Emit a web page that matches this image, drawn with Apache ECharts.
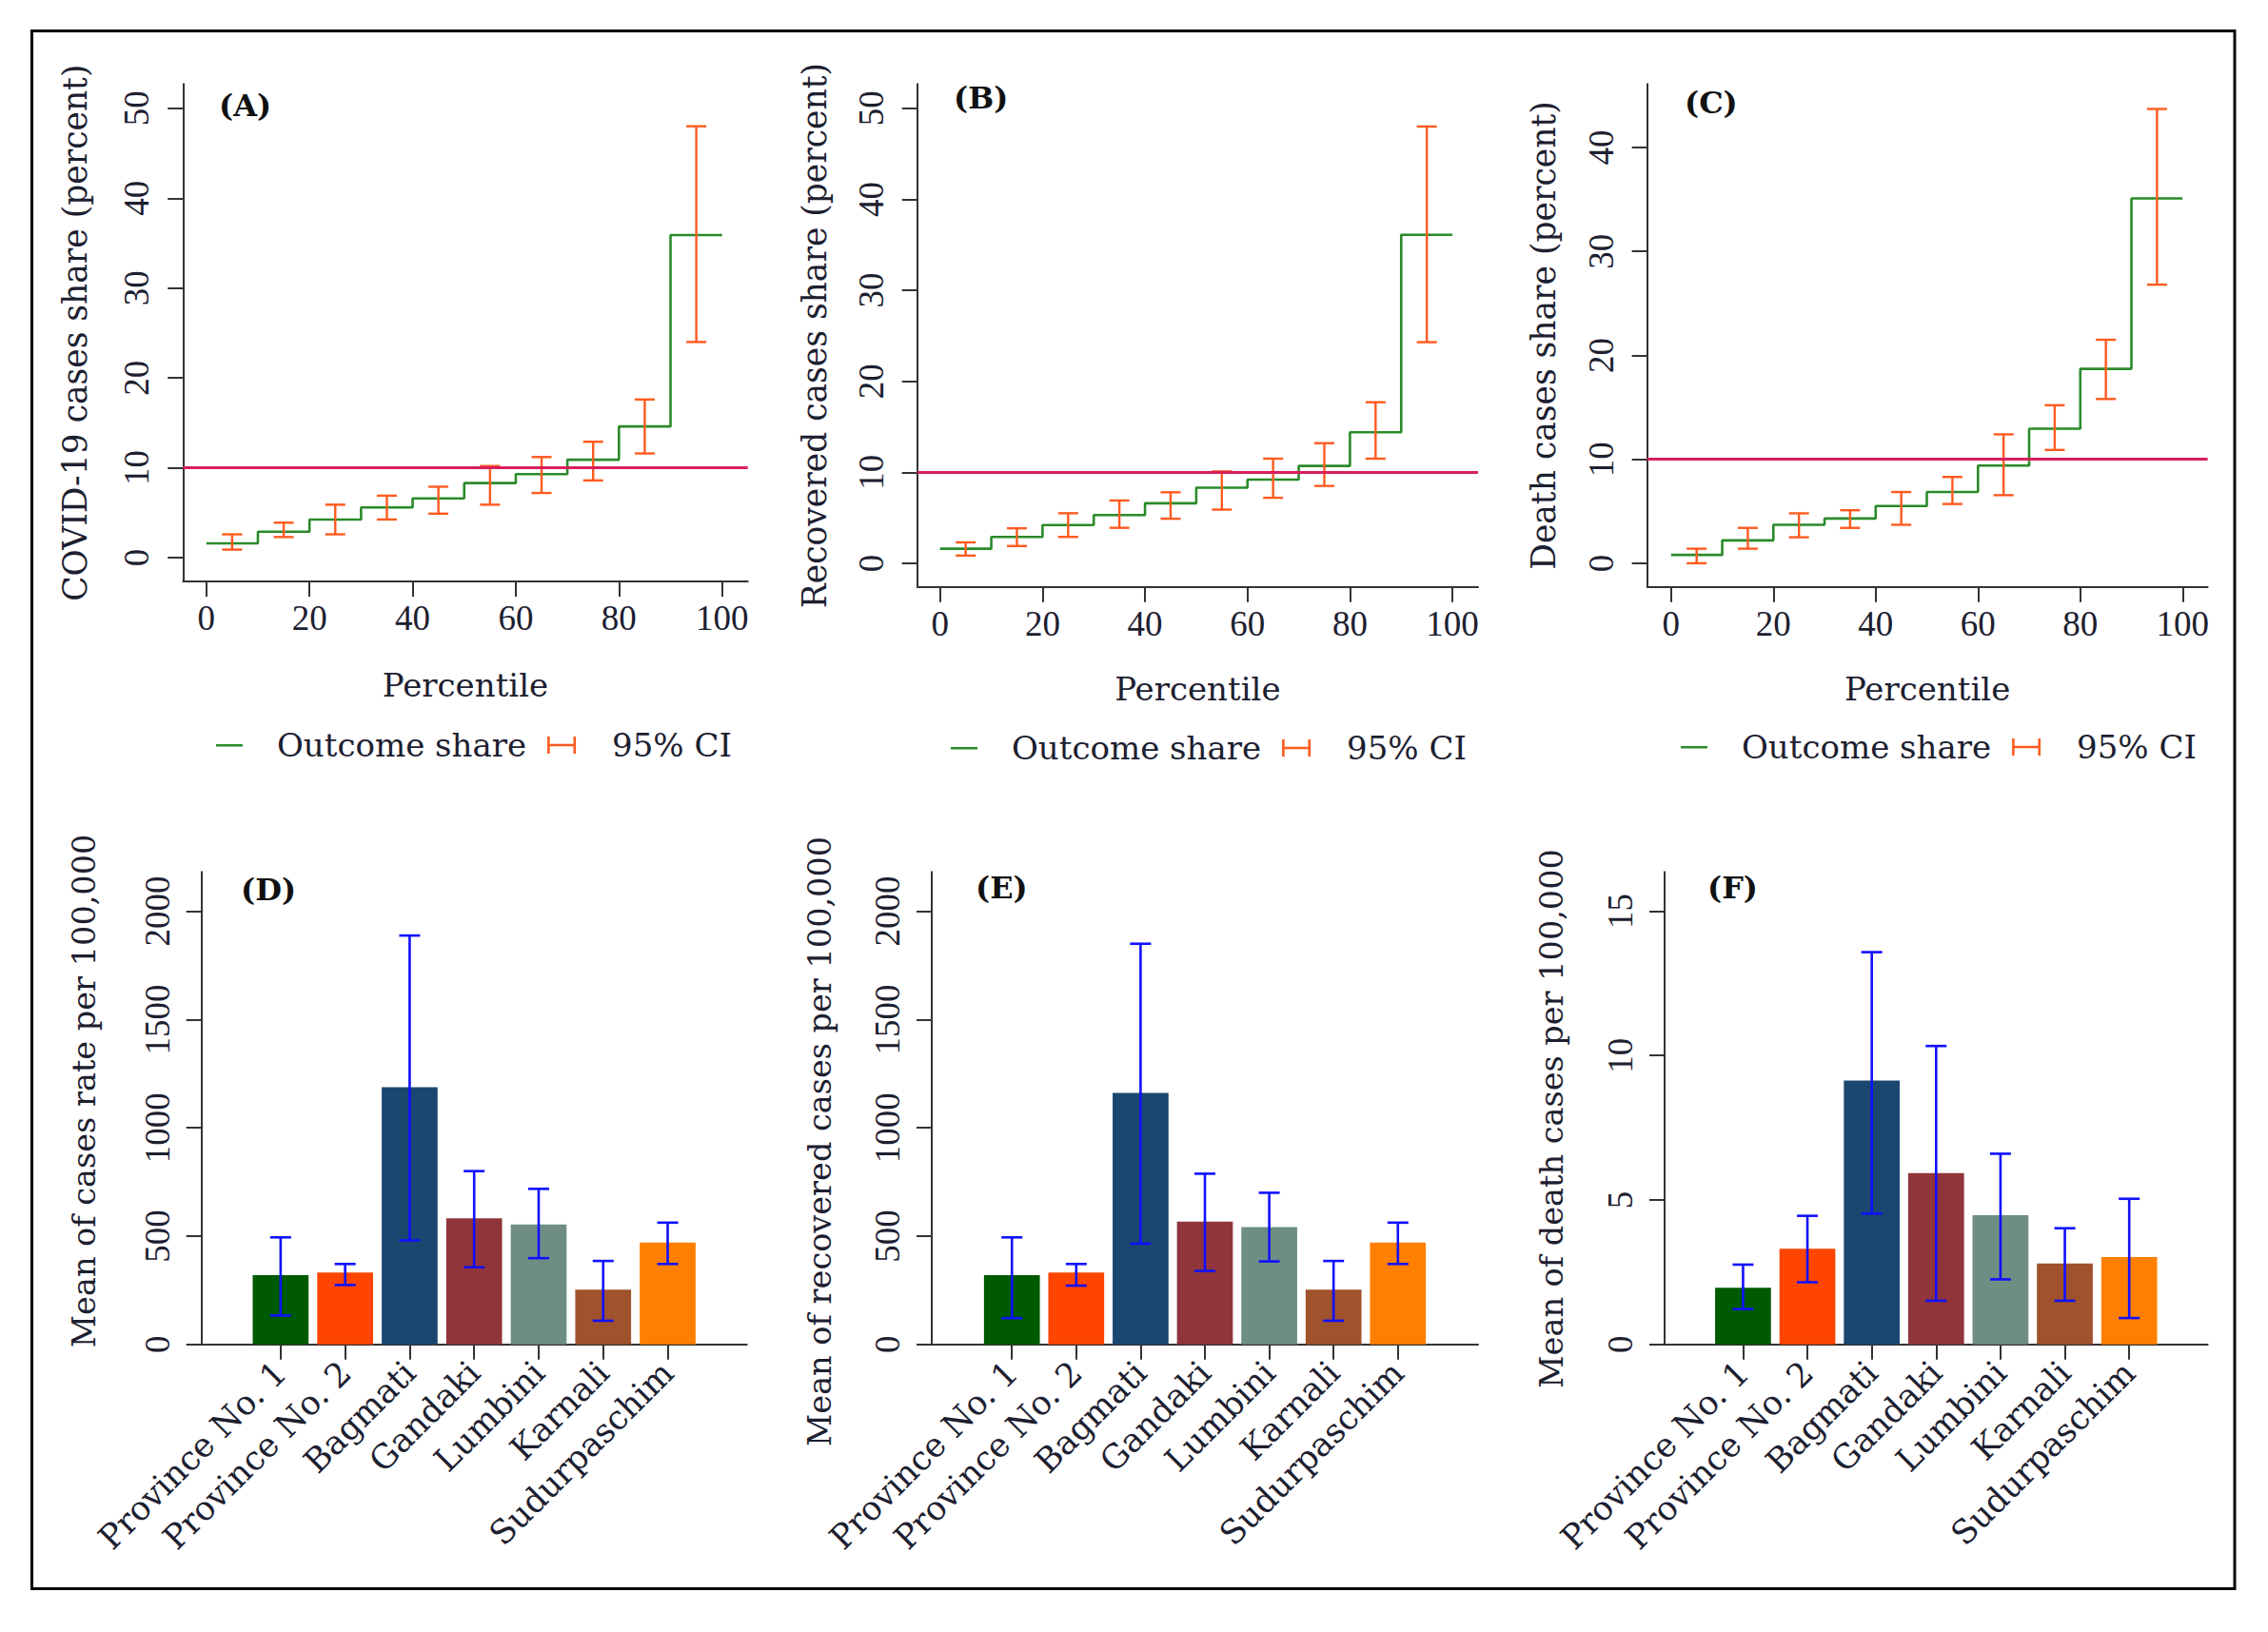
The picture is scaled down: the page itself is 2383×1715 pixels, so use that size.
<!DOCTYPE html>
<html>
<head>
<meta charset="utf-8">
<script src="https://cdn.jsdelivr.net/npm/echarts@6/dist/echarts.min.js"></script>
<style>
html,body{margin:0;padding:0;background:#ffffff;}
#c{width:2383px;height:1715px;}
</style>
</head>
<body>
<div id="c"></div>
<script>
// ---------------- DATA ----------------
const percentileEdges = [0, 10, 20, 30, 40, 50, 60, 70, 80, 90, 100];
const ciPositions = [5, 15, 25, 35, 45, 55, 65, 75, 85, 95];
const percentileTicks = [0, 20, 40, 60, 80, 100];

// (A) COVID-19 cases share
const shareA  = [1.6, 2.9, 4.25, 5.6, 6.6, 8.3, 9.3, 10.9, 14.6, 35.9];
const ciLowA  = [0.9, 2.3, 2.6, 4.25, 4.9, 5.9, 7.2, 8.6, 11.6, 24.0];
const ciHighA = [2.6, 3.9, 5.9, 6.9, 7.9, 10.2, 11.2, 12.9, 17.6, 48.0];
// (B) Recovered cases share
const shareB  = [1.6, 2.9, 4.2, 5.3, 6.6, 8.3, 9.2, 10.7, 14.4, 36.1];
const ciLowB  = [0.85, 1.9, 2.9, 3.9, 4.9, 5.9, 7.2, 8.5, 11.5, 24.3];
const ciHighB = [2.3, 3.85, 5.5, 6.9, 7.8, 10.1, 11.5, 13.2, 17.7, 48.0];
// (C) Death cases share
const shareC  = [0.8, 2.2, 3.7, 4.3, 5.5, 6.85, 9.4, 12.95, 18.7, 35.1];
const ciLowC  = [0.0, 1.4, 2.5, 3.4, 3.7, 5.7, 6.55, 10.9, 15.8, 26.8];
const ciHighC = [1.4, 3.4, 4.8, 5.1, 6.85, 8.3, 12.4, 15.2, 21.5, 43.7];
const referenceShare = 10;

const yTicksAB = [0, 10, 20, 30, 40, 50];
const yTicksC  = [0, 10, 20, 30, 40];

const provinces = ['Province No. 1', 'Province No. 2', 'Bagmati', 'Gandaki', 'Lumbini', 'Karnali', 'Sudurpaschim'];
const provinceColors = ['#005a00', '#ff4500', '#1a476f', '#90353b', '#6e8e84', '#a0522d', '#ff7f00'];

// (D) Mean of cases rate per 100,000
const meanCases = [320, 332, 1188, 582, 553, 252, 470];
const casesLow  = [133, 274, 480, 356, 398, 109, 371];
const casesHigh = [494, 371, 1888, 800, 718, 385, 562];
// (E) Mean of recovered cases per 100,000
const meanRecovered = [320, 332, 1161, 567, 541, 252, 470];
const recoveredLow  = [121, 271, 465, 339, 383, 109, 371];
const recoveredHigh = [494, 371, 1850, 788, 700, 385, 562];
// (F) Mean of death cases per 100,000
const meanDeaths = [1.96, 3.31, 9.13, 5.93, 4.47, 2.8, 3.02];
const deathsLow  = [1.22, 2.15, 4.53, 1.51, 2.25, 1.51, 0.91];
const deathsHigh = [2.76, 4.45, 13.58, 10.33, 6.6, 4.02, 5.04];

const yTicksDE = [0, 500, 1000, 1500, 2000];
const yTicksF  = [0, 5, 10, 15];

const topYTitles = ['COVID-19 cases share (percent)', 'Recovered cases share (percent)', 'Death cases share (percent)'];
const bottomYTitles = ['Mean of cases rate per 100,000', 'Mean of recovered cases per 100,000', 'Mean of death cases per 100,000'];
const xTitle = 'Percentile';
const legendNames = ['Outcome share', '95% CI'];
const panelTags = ['(A)', '(B)', '(C)', '(D)', '(E)', '(F)'];

// ---------------- STYLE ----------------
const SERIF = "'DejaVu Serif', serif";
const NUM = "'Liberation Serif', serif";
const TXT = '#1c2030';
const AXIS = '#333333';
const STEP_COLOR = '#2a8a2a';
const CI_COLOR = '#ff5a1f';
const REF_COLOR = '#d81f5c';
const BAR_CI_COLOR = '#1010ff';

const topLayout = [
  {grid: {left: 192.3, top: 88.3, width: 593.4, height: 522.8}, x: [-4.52, 104.98], y: [-2.65, 52.7], yGap: 96, xGap: 92, legendLeft: 221, legendTop: 761, tag: [230, 111]},
  {grid: {left: 963.7, top: 88.3, width: 589.3, height: 528.5}, x: [-4.46, 105.0], y: [-2.6, 52.67], yGap: 90, xGap: 90, legendLeft: 993, legendTop: 764, tag: [1002, 103]},
  {grid: {left: 1730.6, top: 88.3, width: 589.0, height: 528.5}, x: [-4.69, 104.9], y: [-2.28, 46.1], yGap: 91, xGap: 90, legendLeft: 1760, legendTop: 763, tag: [1770, 108]}
];
const bottomLayout = [
  {grid: {left: 211.7, top: 916.2, width: 573.0, height: 496.5}, x: [-0.227, 8.227], y: [0, 2182], yGap: 106, namePad: [0, 0, 0, 36], tag: [253, 935]},
  {grid: {left: 979.0, top: 916.2, width: 574.0, height: 496.5}, x: [-0.246, 8.246], y: [0, 2182], yGap: 101, namePad: [0, 70, 0, 0], tag: [1025, 933]},
  {grid: {left: 1749.0, top: 916.2, width: 570.6, height: 496.5}, x: [-0.219, 8.219], y: [0, 16.36], yGap: 102, namePad: [0, 22, 0, 0], tag: [1794, 933]}
];

const topData = [
  {share: shareA, lo: ciLowA, hi: ciHighA, yTicks: yTicksAB},
  {share: shareB, lo: ciLowB, hi: ciHighB, yTicks: yTicksAB},
  {share: shareC, lo: ciLowC, hi: ciHighC, yTicks: yTicksC}
];
const bottomData = [
  {mean: meanCases, lo: casesLow, hi: casesHigh, yTicks: yTicksDE},
  {mean: meanRecovered, lo: recoveredLow, hi: recoveredHigh, yTicks: yTicksDE},
  {mean: meanDeaths, lo: deathsLow, hi: deathsHigh, yTicks: yTicksF}
];

function errorBarRenderer(color, capHalf, width) {
  return function (params, api) {
    const x = api.value(0);
    const pLo = api.coord([x, api.value(1)]);
    const pHi = api.coord([x, api.value(2)]);
    const st = {stroke: color, lineWidth: width, fill: null};
    return {
      type: 'group',
      children: [
        {type: 'line', shape: {x1: pLo[0], y1: pLo[1], x2: pHi[0], y2: pHi[1]}, style: st},
        {type: 'line', shape: {x1: pLo[0] - capHalf, y1: pLo[1], x2: pLo[0] + capHalf, y2: pLo[1]}, style: st},
        {type: 'line', shape: {x1: pHi[0] - capHalf, y1: pHi[1], x2: pHi[0] + capHalf, y2: pHi[1]}, style: st}
      ]
    };
  };
}

const plainNumber = v => String(v);

const grids = [], xAxes = [], yAxes = [], series = [], legends = [], graphics = [];

const axisLineCommon = {show: true, onZero: false, lineStyle: {color: AXIS, width: 2}};
const axisTickCommon = {show: true, length: 16, lineStyle: {color: AXIS, width: 2}};

const outcomeIcon = 'path://M0,0h0.01v0.01h-0.01z M30,20h0.01v0.01h-0.01z M1,9h28v2.6h-28z';
const ciIcon = 'path://M0,0h0.01v0.01h-0.01z M30,20h0.01v0.01h-0.01z M0,1h2.6v18h-2.6z M0,8.7h30v2.6h-30z M27.4,1h2.6v18h-2.6z';

// ---- top panels ----
topLayout.forEach((L, i) => {
  const D = topData[i];
  const gi = grids.length;
  grids.push(Object.assign({containLabel: false}, L.grid));
  xAxes.push({
    type: 'value', gridIndex: gi, min: L.x[0], max: L.x[1],
    axisLine: axisLineCommon,
    axisTick: Object.assign({customValues: percentileTicks}, axisTickCommon),
    axisLabel: {customValues: percentileTicks, margin: 20, fontFamily: NUM, fontSize: 37, color: TXT, formatter: plainNumber},
    splitLine: {show: false},
    name: xTitle, nameLocation: 'middle', nameGap: L.xGap,
    nameTextStyle: {fontFamily: SERIF, fontSize: 34, color: TXT}
  });
  yAxes.push({
    type: 'value', gridIndex: gi, min: L.y[0], max: L.y[1],
    axisLine: axisLineCommon,
    axisTick: Object.assign({customValues: D.yTicks}, axisTickCommon),
    axisLabel: {customValues: D.yTicks, rotate: 90, margin: 30, fontFamily: NUM, fontSize: 37, color: TXT, formatter: plainNumber},
    splitLine: {show: false},
    name: topYTitles[i], nameLocation: 'middle', nameGap: L.yGap,
    nameTextStyle: {fontFamily: SERIF, fontSize: 34.5, color: TXT}
  });
  series.push({
    name: legendNames[0], type: 'line', xAxisIndex: gi, yAxisIndex: gi,
    step: 'end', symbol: 'none', silent: true, animation: false,
    lineStyle: {color: STEP_COLOR, width: 2.6}, itemStyle: {color: STEP_COLOR},
    data: percentileEdges.map((e, k) => [e, D.share[Math.min(k, D.share.length - 1)]]),
    markLine: {
      silent: true, symbol: 'none', animation: false, label: {show: false},
      lineStyle: {color: REF_COLOR, width: 3, type: 'solid'},
      data: [{yAxis: referenceShare}]
    },
    z: 3
  });
  series.push({
    name: legendNames[1], type: 'custom', xAxisIndex: gi, yAxisIndex: gi,
    silent: true, animation: false, itemStyle: {color: CI_COLOR},
    renderItem: errorBarRenderer(CI_COLOR, 10.5, 2.4),
    encode: {x: 0, y: [1, 2]},
    data: ciPositions.map((p, k) => [p, D.lo[k], D.hi[k]]),
    z: 4
  });
  legends.push({
    left: L.legendLeft, top: L.legendTop, orient: 'horizontal',
    itemWidth: 30, itemHeight: 20, itemGap: 22, selectedMode: false,
    textStyle: {fontFamily: SERIF, fontSize: 34, color: TXT},
    data: [
      {name: legendNames[0], icon: outcomeIcon, itemStyle: {color: STEP_COLOR}, textStyle: {padding: [0, 0, 0, 30]}},
      {name: legendNames[1], icon: ciIcon, itemStyle: {color: CI_COLOR}, textStyle: {padding: [0, 0, 0, 33]}}
    ]
  });
  graphics.push({
    type: 'text', x: L.tag[0], y: L.tag[1],
    style: {text: panelTags[i], fontFamily: SERIF, fontWeight: 'bold', fontSize: 32, fill: '#111', textVerticalAlign: 'middle'}
  });
});

// ---- bottom panels ----
const provinceIdx = provinces.map((p, k) => k + 1);
bottomLayout.forEach((L, i) => {
  const D = bottomData[i];
  const gi = grids.length;
  grids.push(Object.assign({containLabel: false}, L.grid));
  xAxes.push({
    type: 'value', gridIndex: gi, min: L.x[0], max: L.x[1],
    axisLine: axisLineCommon,
    axisTick: Object.assign({customValues: provinceIdx}, axisTickCommon),
    axisLabel: {
      customValues: provinceIdx, rotate: 45, margin: 24,
      fontFamily: SERIF, fontSize: 35, color: TXT,
      formatter: v => provinces[Math.round(v) - 1] || ''
    },
    splitLine: {show: false}
  });
  yAxes.push({
    type: 'value', gridIndex: gi, min: L.y[0], max: L.y[1],
    axisLine: axisLineCommon,
    axisTick: Object.assign({customValues: D.yTicks}, axisTickCommon),
    axisLabel: {customValues: D.yTicks, rotate: 90, margin: 28, fontFamily: NUM, fontSize: 37, color: TXT, formatter: plainNumber},
    splitLine: {show: false},
    name: bottomYTitles[i], nameLocation: 'middle', nameGap: L.yGap,
    nameTextStyle: {fontFamily: SERIF, fontSize: 33.5, color: TXT, padding: L.namePad}
  });
  series.push({
    type: 'bar', xAxisIndex: gi, yAxisIndex: gi, silent: true, animation: false,
    barWidth: 58.7,
    data: D.mean.map((v, k) => ({value: [k + 1, v], itemStyle: {color: provinceColors[k]}})),
    z: 2
  });
  series.push({
    type: 'custom', xAxisIndex: gi, yAxisIndex: gi, silent: true, animation: false,
    renderItem: errorBarRenderer(BAR_CI_COLOR, 11, 2.6),
    encode: {x: 0, y: [1, 2]},
    data: D.mean.map((v, k) => [k + 1, D.lo[k], D.hi[k]]),
    z: 4
  });
  graphics.push({
    type: 'text', x: L.tag[0], y: L.tag[1],
    style: {text: panelTags[i + 3], fontFamily: SERIF, fontWeight: 'bold', fontSize: 32, fill: '#111', textVerticalAlign: 'middle'}
  });
});

// outer frame
graphics.push({
  type: 'rect', shape: {x: 33.5, y: 32.5, width: 2314.5, height: 1637},
  style: {fill: null, stroke: '#000', lineWidth: 3}, silent: true, z: 100
});

const chart = echarts.init(document.getElementById('c'), null, {renderer: 'svg'});
chart.setOption({
  backgroundColor: '#ffffff',
  animation: false,
  grid: grids,
  xAxis: xAxes,
  yAxis: yAxes,
  legend: legends,
  series: series,
  graphic: graphics
});
</script>
</body>
</html>
